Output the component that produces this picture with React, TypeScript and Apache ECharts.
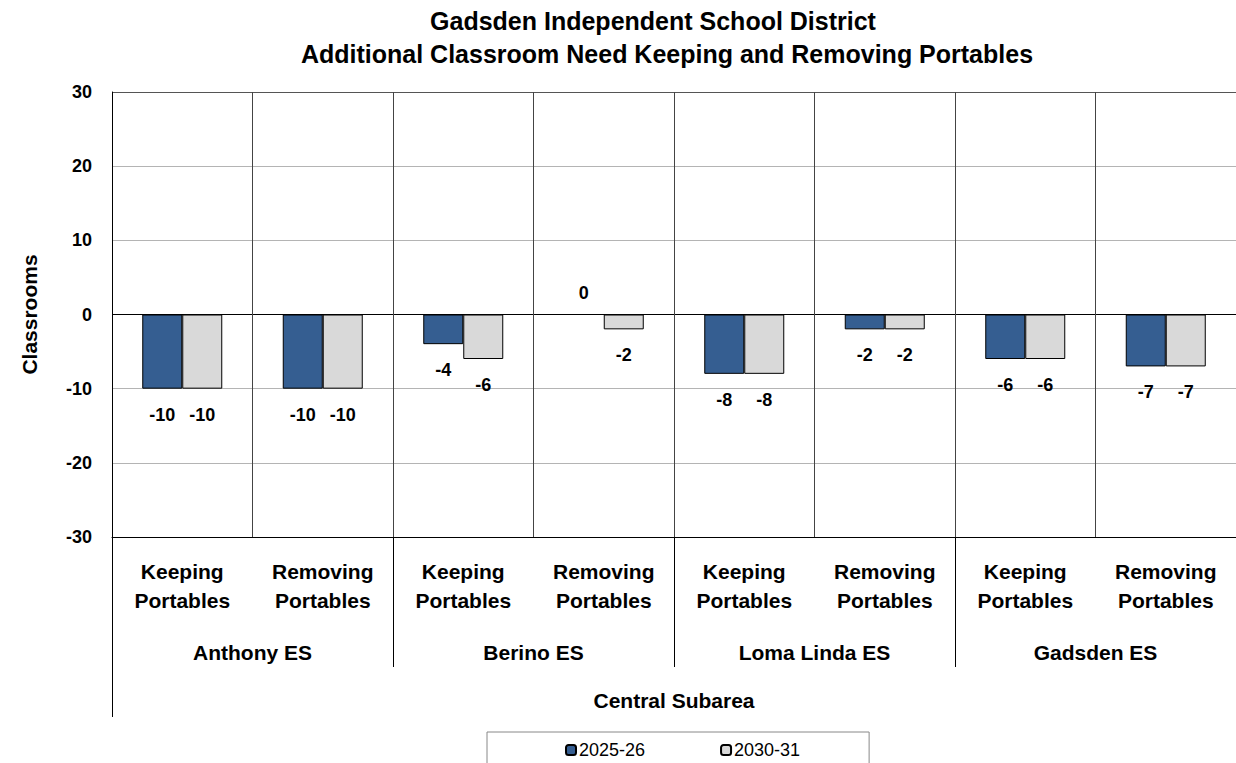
import React, { useEffect, useRef } from "react";
import * as echarts from "echarts";

const FONT = "'Liberation Sans', Arial, sans-serif";

const titleLines = [
  "Gadsden Independent School District",
  "Additional Classroom Need Keeping and Removing Portables",
];
const scenarios = [
  "Keeping\nPortables",
  "Removing\nPortables",
  "Keeping\nPortables",
  "Removing\nPortables",
  "Keeping\nPortables",
  "Removing\nPortables",
  "Keeping\nPortables",
  "Removing\nPortables",
];
const schools = ["Anthony ES", "Berino ES", "Loma Linda ES", "Gadsden ES"];
const subareas = ["Central Subarea"];
const seriesNames = ["2025-26", "2030-31"];
const need2025 = [-10, -10, -4, 0, -8, -2, -6, -7];
const need2030 = [-10, -10, -6, -2, -8, -2, -6, -7];
const yTicks = { min: -30, max: 30, interval: 10 };

const labelStyle = {
  show: true,
  position: "bottom",
  distance: 17,
  fontFamily: FONT,
  fontSize: 18,
  fontWeight: "bold",
  color: "#000",
};

// zero values get their label above the baseline
const toData = (values: number[]) =>
  values.map((v) =>
    v === 0 ? { value: v, label: { position: "top", distance: 12 } } : v
  );

const titleText = {
  fontFamily: FONT,
  fontSize: 25,
  fontWeight: "bold",
  color: "#000",
};

export default function App() {
  const ref = useRef<HTMLDivElement>(null);

  useEffect(() => {
    if (!ref.current) return;
    const chart = echarts.init(ref.current, undefined, { renderer: "svg" });
    chart.setOption({
      animation: false,
      backgroundColor: "#fff",
      textStyle: { fontFamily: FONT },
      title: [
        {
          text: titleLines[0],
          left: 653,
          top: 8,
          textAlign: "center",
          padding: 0,
          textStyle: titleText,
        },
        {
          text: titleLines[1],
          left: 667,
          top: 41,
          textAlign: "center",
          padding: 0,
          textStyle: titleText,
        },
      ],
      legend: {
        data: seriesNames,
        left: 487,
        top: 732,
        padding: [9, 69, 8, 78],
        itemGap: 75,
        itemWidth: 10,
        itemHeight: 10,
        borderColor: "#888",
        borderWidth: 1,
        textStyle: { fontFamily: FONT, fontSize: 18, color: "#000", padding: [0, 0, 0, -2] },
      },
      grid: { left: 112, top: 92, right: -2, bottom: 226 },
      xAxis: [
        {
          type: "category",
          data: scenarios,
          position: "bottom",
          axisLine: { onZero: false, lineStyle: { color: "#000", width: 1 } },
          axisTick: { show: false },
          splitLine: { show: true, interval: 0, lineStyle: { color: "#444", width: 1 } },
          axisLabel: {
            interval: 0,
            margin: 20,
            fontFamily: FONT,
            fontSize: 21,
            fontWeight: "bold",
            color: "#000",
            lineHeight: 29,
          },
        },
        {
          type: "category",
          data: schools,
          position: "bottom",
          axisLine: { show: false, onZero: false },
          axisTick: { show: true, interval: 0, length: 130, lineStyle: { color: "#000", width: 1 } },
          splitLine: { show: false },
          axisLabel: {
            interval: 0,
            margin: 105,
            fontFamily: FONT,
            fontSize: 21,
            fontWeight: "bold",
            color: "#000",
          },
        },
        {
          type: "category",
          data: subareas,
          position: "bottom",
          axisLine: { show: false, onZero: false },
          axisTick: { show: true, interval: 0, length: 180, lineStyle: { color: "#000", width: 1 } },
          splitLine: { show: false },
          axisLabel: {
            interval: 0,
            margin: 153,
            fontFamily: FONT,
            fontSize: 21,
            fontWeight: "bold",
            color: "#000",
          },
        },
      ],
      yAxis: {
        type: "value",
        min: yTicks.min,
        max: yTicks.max,
        interval: yTicks.interval,
        name: "Classrooms",
        nameLocation: "middle",
        nameRotate: 90,
        nameGap: 72,
        nameTextStyle: { fontFamily: FONT, fontSize: 21, fontWeight: "bold", color: "#000" },
        axisLine: { show: true, lineStyle: { color: "#000", width: 1 } },
        axisTick: { show: false },
        axisLabel: {
          margin: 20,
          fontFamily: FONT,
          fontSize: 18,
          fontWeight: "bold",
          color: "#000",
        },
        splitLine: {
          show: true,
          lineStyle: {
            color: ["#000", "#b4b4b4", "#b4b4b4", "#000", "#b4b4b4", "#b4b4b4", "#555"],
            width: 1,
          },
        },
      },
      series: [
        {
          name: seriesNames[0],
          type: "bar",
          xAxisIndex: 0,
          data: toData(need2025),
          barWidth: 40,
          barGap: "0%",
          itemStyle: { color: "#355E91", borderColor: "#000", borderWidth: 1 },
          label: labelStyle,
        },
        {
          name: seriesNames[1],
          type: "bar",
          xAxisIndex: 0,
          data: toData(need2030),
          barWidth: 40,
          barGap: "0%",
          itemStyle: { color: "#D9D9D9", borderColor: "#000", borderWidth: 1 },
          label: labelStyle,
        },
      ],
    });
    return () => chart.dispose();
  }, []);

  return (
    <div
      ref={ref}
      style={{ position: "fixed", left: 0, top: 0, width: 1236, height: 763 }}
    />
  );
}
